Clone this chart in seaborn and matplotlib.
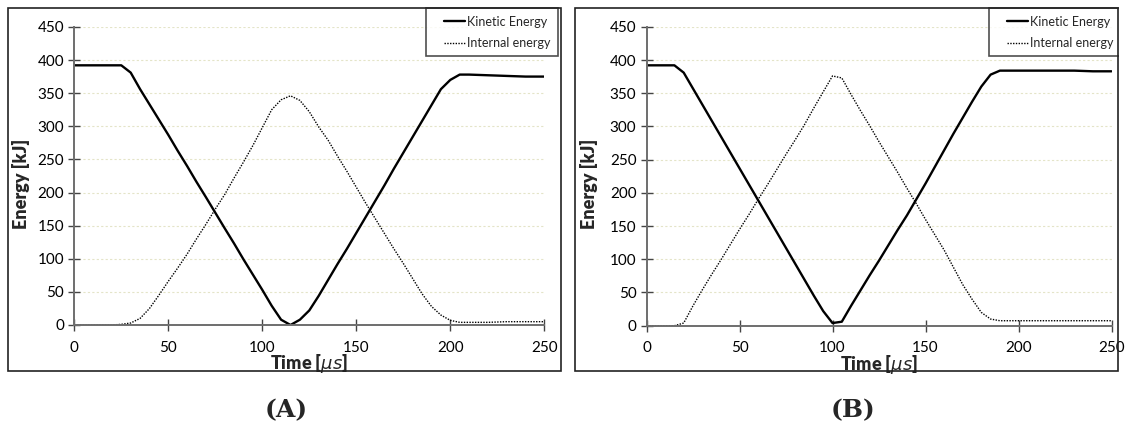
import matplotlib
matplotlib.use("Agg")
import matplotlib.pyplot as plt
from matplotlib.patches import Rectangle
from matplotlib.legend_handler import HandlerLine2D
from matplotlib.lines import Line2D
import seaborn as sns
import pandas as pd

# ---- data (A) ----
time_a = [0, 5, 10, 15, 20, 25, 30, 35, 40, 45, 50, 55, 60, 65, 70, 75, 80, 85, 90, 95,
          100, 105, 110, 115, 120, 125, 130, 135, 140, 145, 150, 155, 160, 165, 170, 175,
          180, 185, 190, 195, 200, 205, 210, 220, 230, 240, 250]
kinetic_a = [392, 392, 392, 392, 392, 392, 381, 356, 333, 310, 287, 263, 240, 216, 193, 169.5,
             146, 123, 99, 76, 53, 29, 8, 0, 8, 22, 44, 68, 92, 115, 139, 163, 187, 211, 236, 260,
             284, 308, 332, 356, 370, 378, 378, 377, 376, 375, 375]
internal_a = [0, 0, 0, 0, 0, 1, 3, 10, 25, 45, 66, 86, 107, 130, 152, 175, 197, 222, 246, 271,
              298, 325, 340, 346, 339, 322, 299, 279, 255, 232, 208, 184, 161, 138, 115, 93,
              70, 47, 28, 15, 7, 4, 4, 4, 5, 5, 5]

# ---- data (B) ----
time_b = [0, 5, 10, 15, 20, 25, 30, 35, 40, 45, 50, 55, 60, 65, 70, 75, 80, 85, 90, 95,
          100, 105, 110, 115, 120, 125, 130, 135, 140, 145, 150, 155, 160, 165, 170, 175,
          180, 185, 190, 200, 210, 220, 230, 240, 250]
kinetic_b = [392, 392, 392, 392, 381, 357, 333, 309, 285, 261, 237, 213, 189, 165, 141, 117,
             93, 69, 45, 22, 4, 6, 30, 53, 76, 98, 121, 144, 166, 190, 214, 239, 264, 289, 313,
             337, 360, 378, 384, 384, 384, 384, 384, 383, 383]
internal_b = [0, 0, 0, 0, 4, 30, 54, 77, 99, 122, 145, 167, 190, 212, 235, 258, 280, 303, 328,
              352, 376, 373, 348, 324, 301, 277, 254, 231, 207, 184, 160, 137, 114, 88, 62,
              40, 20, 10, 7.5, 7.5, 7.5, 7.5, 7.5, 7.5, 7.5]

series_names = ["Kinetic Energy", "Internal energy"]
tick_x = [0, 50, 100, 150, 200, 250]
tick_y = [0, 50, 100, 150, 200, 250, 300, 350, 400, 450]
panel_labels = ["(A)", "(B)"]

sns.set_theme(style="white")
plt.rcParams["font.family"] = ["Lato", "DejaVu Sans"]

W, H = 1126, 428
fig = plt.figure(figsize=(W / 100, H / 100), dpi=100)

def fx(px):
    return px / W

def fy(py):
    return 1 - py / H

panels = [
    dict(t=time_a, k=kinetic_a, i=internal_a, ax=(74.3, 26.9, 544.3, 325.0),
         frame=(8, 8, 561, 371), leg=(426, 8), lab_x=286),
    dict(t=time_b, k=kinetic_b, i=internal_b, ax=(646.5, 26.8, 1111.5, 325.7),
         frame=(575, 8, 1118, 371), leg=(989, 8), lab_x=853),
]

for p, lab in zip(panels, panel_labels):
    x0, y0, x1, y1 = p["ax"]
    fl, ft, fr, fb = p["frame"]
    ax = fig.add_axes([fx(x0), fy(y1), fx(x1 - x0), (y1 - y0) / H])
    df = pd.concat([
        pd.DataFrame({"t": p["t"], "E": p["k"], "s": series_names[0]}),
        pd.DataFrame({"t": p["t"], "E": p["i"], "s": series_names[1]}),
    ])
    sns.lineplot(data=df, x="t", y="E", hue="s", style="s",
                 palette=["black", "black"], dashes=[(None, None), (1, 1)],
                 ax=ax, legend=False, linewidth=1.5)
    lines = ax.get_lines()
    lines[0].set_linestyle("-")
    lines[0].set_linewidth(1.7)
    lines[1].set_linestyle((0, (1, 1)))
    lines[1].set_linewidth(1.0)

    ax.set_xlim(0, 250)
    ax.set_ylim(0, 450)
    ax.set_xticks(tick_x)
    ax.set_yticks(tick_y)
    ax.tick_params(axis="both", direction="inout", length=8.5, width=1.0,
                   colors="#444444", labelsize=11, labelcolor="black", pad=3,
                   bottom=True, left=True)
    ax.tick_params(axis="x", pad=7)
    for s in ["top", "right"]:
        ax.spines[s].set_visible(False)
    for s in ["left", "bottom"]:
        ax.spines[s].set_color("#6e6e6e")
        ax.spines[s].set_linewidth(1.4)
    ax.yaxis.grid(True, color="#e4e4c8", linestyle=(0, (2, 2)), linewidth=0.8)
    ax.set_axisbelow(True)
    ax.set_xlabel("Time [$\\mu s$]", fontsize=13, fontweight="heavy", labelpad=-2)
    ax.set_ylabel("Energy [kJ]", fontsize=13, fontweight="heavy")
    ax.yaxis.label.set_verticalalignment("center")
    ax.yaxis.set_label_coords((fl + 13.5 - x0) / (x1 - x0), (y1 - 184) / (y1 - y0))
    ax.patch.set_alpha(0)

    fig.add_artist(Rectangle((fx(fl), fy(fb)), fx(fr - fl), (fb - ft) / H,
                             transform=fig.transFigure, fill=False,
                             edgecolor="#222222", linewidth=1.2, zorder=10))

    lx, ly = p["leg"]
    leg = ax.legend(lines, series_names, loc="upper left",
                    bbox_to_anchor=(fx(lx), fy(ly)), bbox_transform=fig.transFigure,
                    fontsize=9, frameon=True, fancybox=False, borderaxespad=0,
                    handlelength=2.5, handletextpad=0.15, labelspacing=0.75,
                    borderpad=0.6,
                    handler_map={Line2D: HandlerLine2D(xpad=0.8)})
    leg.get_frame().set_edgecolor("#222222")
    leg.get_frame().set_linewidth(1.2)
    leg.get_frame().set_facecolor("white")

    fig.text(fx(p["lab_x"]), fy(410), lab, ha="center", va="center",
             fontsize=18, fontweight="bold", family=["DejaVu Serif"])

# hide legend overflow past the right panel frame
fig.add_artist(Rectangle((fx(1118.6), fy(70)), fx(W - 1118.6), 70 / H,
                         transform=fig.transFigure,
                         facecolor="white", edgecolor="none", zorder=9))

fig.savefig("out.png", dpi=100)
